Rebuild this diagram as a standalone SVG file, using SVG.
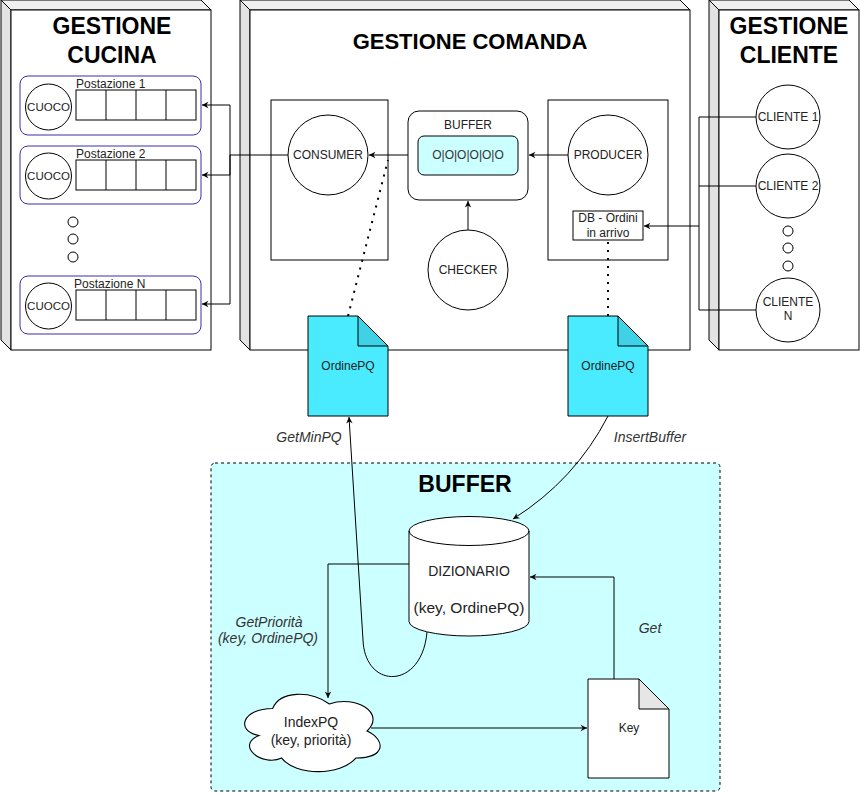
<svg xmlns="http://www.w3.org/2000/svg" width="860" height="793" viewBox="0 0 860 793">
<style>
text{font-family:"Liberation Sans",Arial,sans-serif;fill:#222;text-anchor:middle}
.t{font-weight:bold;font-size:22px;fill:#000}
.ts{font-weight:bold;font-size:23px;fill:#000}
.s{font-size:12px}
.l{font-size:14px;font-style:italic;fill:#333}
.m{font-size:14px}
.ln{fill:none;stroke:#000;stroke-width:1}
.face{fill:#fff;stroke:#000;stroke-width:1}
.side{fill:#e3e3e3;stroke:#000;stroke-width:1}
.top{fill:#f0f0f0;stroke:#000;stroke-width:1}
.post{fill:#fff;stroke:#3c2fa8;stroke-width:1}
.c{fill:#fff;stroke:#000;stroke-width:1}
.dot{fill:none;stroke:#000;stroke-width:2;stroke-dasharray:2 6}
.doc{fill:#4aebff;stroke:#000;stroke-width:1}
.fold{fill:#3fd2e6;stroke:#000;stroke-width:1}
</style>
<defs>
<marker id="a" viewBox="0 0 10 10" refX="9" refY="5" markerWidth="8" markerHeight="8" markerUnits="userSpaceOnUse" orient="auto">
<path d="M1,1 L9,5 L1,9 L3.5,5 Z" fill="#000"/>
</marker>
</defs>

<g id="cucina">
<polygon class="side" points="1,0 11,10 11,350 1,340"/>
<polygon class="top" points="1,0 201,0 211,10 11,10"/>
<rect class="face" x="11" y="10" width="200" height="340"/>
<text class="ts" x="112" y="34">GESTIONE</text>
<text class="ts" x="112" y="63">CUCINA</text>
</g>

<g id="postazione1">
<rect class="post" x="20" y="76" width="181" height="59" rx="8"/>
<circle class="c" cx="48.5" cy="107" r="23"/>
<text class="s" x="48.5" y="111" style="font-size:11.5px">CUOCO</text>
<text class="s" x="76" y="88" style="text-anchor:start">Postazione 1</text>
<rect class="c" x="76" y="90" width="120" height="30"/>
<path class="ln" d="M106,90 V120 M136,90 V120 M166,90 V120"/>
</g>
<g id="postazione2">
<rect class="post" x="20" y="146" width="181" height="58" rx="8"/>
<circle class="c" cx="48.5" cy="176" r="23"/>
<text class="s" x="48.5" y="180" style="font-size:11.5px">CUOCO</text>
<text class="s" x="76" y="158" style="text-anchor:start">Postazione 2</text>
<rect class="c" x="76" y="160" width="120" height="30"/>
<path class="ln" d="M106,160 V190 M136,160 V190 M166,160 V190"/>
</g>
<g id="dots-cucina">
<circle class="c" cx="73" cy="222" r="5"/>
<circle class="c" cx="73" cy="239" r="5"/>
<circle class="c" cx="73" cy="257" r="5"/>
</g>
<g id="postazioneN">
<rect class="post" x="20" y="276" width="181" height="58" rx="8"/>
<circle class="c" cx="48.5" cy="306" r="23"/>
<text class="s" x="48.5" y="310" style="font-size:11.5px">CUOCO</text>
<text class="s" x="74" y="288" style="text-anchor:start">Postazione N</text>
<rect class="c" x="76" y="290" width="120" height="30"/>
<path class="ln" d="M106,290 V320 M136,290 V320 M166,290 V320"/>
</g>

<g id="comanda">
<polygon class="side" points="240,0 250,10 250,350 240,340"/>
<polygon class="top" points="240,0 680,0 690,10 250,10"/>
<rect class="face" x="250" y="10" width="440" height="340"/>
<text class="t" x="470" y="49">GESTIONE COMANDA</text>
</g>

<g id="consumer">
<rect class="c" x="271" y="100" width="117" height="160"/>
<circle class="c" cx="328" cy="155" r="40"/>
<text class="s" x="328" y="159">CONSUMER</text>
</g>

<g id="buffer-small">
<rect class="c" x="408" y="111" width="120" height="89" rx="11"/>
<text class="s" x="468" y="129">BUFFER</text>
<rect x="418" y="136" width="100" height="39" rx="6" fill="#ccffff" stroke="#000"/>
<text class="s" x="468" y="159" style="fill:#333">O|O|O|O|O|O</text>
</g>

<g id="producer">
<rect class="c" x="548" y="100" width="120" height="160"/>
<circle class="c" cx="608" cy="155" r="40"/>
<text class="s" x="608" y="159">PRODUCER</text>
</g>

<g id="db">
<rect class="c" x="573" y="211" width="70" height="29"/>
<text class="s" x="608" y="222">DB - Ordini</text>
<text class="s" x="608" y="237">in arrivo</text>
</g>

<g id="checker">
<circle class="c" cx="468" cy="270" r="40"/>
<text class="s" x="468" y="274">CHECKER</text>
</g>

<g id="cliente">
<polygon class="side" points="709,0 719,10 719,350 709,340"/>
<polygon class="top" points="709,0 849,0 859,10 719,10"/>
<rect class="face" x="719" y="10" width="140" height="340"/>
<text class="ts" x="789" y="34">GESTIONE</text>
<text class="ts" x="789" y="63">CLIENTE</text>
</g>

<g id="cliente1">
<circle class="c" cx="788" cy="117" r="32"/>
<text class="s" x="788" y="121">CLIENTE 1</text>
</g>
<g id="cliente2">
<circle class="c" cx="788" cy="186" r="32"/>
<text class="s" x="788" y="190">CLIENTE 2</text>
</g>
<g id="dots-clienti">
<circle class="c" cx="788" cy="231" r="5"/>
<circle class="c" cx="788" cy="248" r="5"/>
<circle class="c" cx="788" cy="266" r="5"/>
</g>
<g id="clienteN">
<circle class="c" cx="788" cy="310" r="32"/>
<text class="s" x="788" y="306">CLIENTE</text>
<text class="s" x="788" y="320">N</text>
</g>

<g id="buffer-container">
<rect x="211" y="463" width="509" height="328" rx="4" fill="#ccffff" stroke="#000" stroke-dasharray="3 3"/>
<text class="ts" x="465" y="492">BUFFER</text>
</g>

<g id="dizionario">
<path class="c" d="M409,531 A60,14.5 0 0 1 529,531 V621.5 A60,14.5 0 0 1 409,621.5 Z"/>
<path class="ln" d="M409,531 A60,14.5 0 0 0 529,531"/>
<text class="m" x="469" y="576">DIZIONARIO</text>
<text class="m" x="469" y="613" style="font-size:15.5px">(key, OrdinePQ)</text>
</g>

<g id="indexpq">
<path class="c" transform="translate(311,731) scale(1.12,1.1) translate(-311,-731)" d="M276.75,710.5 C249.75,710.5 243,731 264.6,735.1 C243,744.1 267.3,763.8 284.85,755.6 C297,772 337.5,772 351,755.6 C378,755.6 378,739.2 361.1,731 C378,714.6 351,698.2 327.4,706.4 C310.5,694.1 283.5,694.1 276.75,710.5 Z"/>
<text class="m" x="311" y="727">IndexPQ</text>
<text class="m" x="311" y="745">(key, priorità)</text>
</g>

<g id="key">
<path class="c" d="M588,679 H639 L669,709 V778 H588 Z"/>
<path d="M639,679 V709 H669 Z" fill="#e6e6e6" stroke="#000"/>
<text class="s" x="629" y="732">Key</text>
</g>

<g id="connectors">
<path class="ln" d="M288,155 H230 V105 H202" marker-end="url(#a)"/>
<path class="ln" d="M230,155 V175 H202" marker-end="url(#a)"/>
<path class="ln" d="M230,155 V304 H202" marker-end="url(#a)"/>
<path class="ln" d="M408,155 H369" marker-end="url(#a)"/>
<path class="ln" d="M568,155 H529" marker-end="url(#a)"/>
<path class="ln" d="M468,230 V201" marker-end="url(#a)"/>
<path class="ln" d="M756,117 H699 V310 H756"/>
<path class="ln" d="M756,186 H699"/>
<path class="ln" d="M699,226 H644" marker-end="url(#a)"/>
<path class="dot" d="M348,316 L388,160"/>
<path class="dot" d="M608,316 V241"/>
<path class="ln" d="M608,416 Q575,480 513,519" marker-end="url(#a)"/>
<path class="ln" d="M427,632 C422,690 365,690 363,640 L349,417" marker-end="url(#a)"/>
<path class="ln" d="M409,564 H328 V698" marker-end="url(#a)"/>
<path class="ln" d="M371,728 H587" marker-end="url(#a)"/>
<path class="ln" d="M614,679 V577 H530" marker-end="url(#a)"/>
</g>

<g id="ordinepq-consumer">
<path class="doc" d="M308,316 H358 L388,346 V416 H308 Z"/>
<path class="fold" d="M358,316 V346 H388 Z"/>
<text class="s" x="348" y="370">OrdinePQ</text>
</g>
<g id="ordinepq-producer">
<path class="doc" d="M568,316 H618 L648,346 V416 H568 Z"/>
<path class="fold" d="M618,316 V346 H648 Z"/>
<text class="s" x="608" y="370">OrdinePQ</text>
</g>

<g id="labels">
<text class="l" x="309" y="442">GetMinPQ</text>
<text class="l" x="650" y="442">InsertBuffer</text>
<text class="l" x="269" y="627">GetPriorità</text>
<text class="l" x="268" y="643">(key, OrdinePQ)</text>
<text class="l" x="650" y="633">Get</text>
</g>
</svg>
